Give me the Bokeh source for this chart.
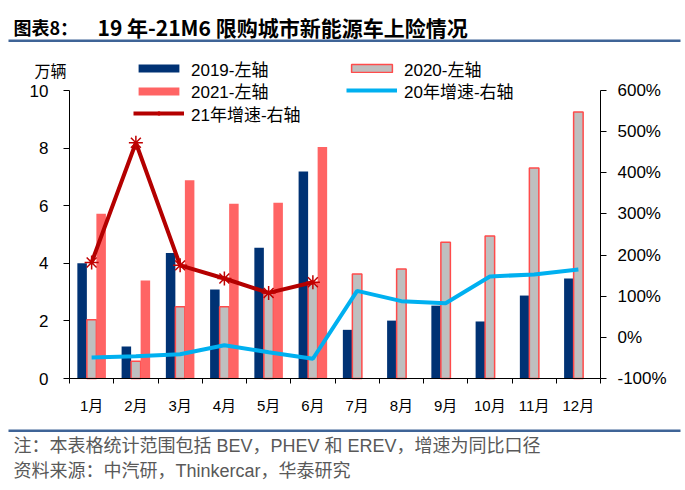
from bokeh.plotting import figure
from bokeh.models import (ColumnDataSource, Range1d, LinearAxis, FixedTicker, PrintfTickFormatter,
                          Legend, LegendItem, Label, BoxAnnotation)
from bokeh.transform import dodge
from bokeh.embed import file_html
from bokeh.resources import INLINE

# ---- data ----
months = ["1月", "2月", "3月", "4月", "5月", "6月", "7月", "8月", "9月", "10月", "11月", "12月"]
month_idx = list(range(1, 13))
sales_2019 = [4.0, 1.11, 4.36, 3.09, 4.54, 7.19, 1.69, 2.01, 2.53, 1.98, 2.88, 3.47]
sales_2020 = [2.04, 0.60, 2.49, 2.49, 2.95, 3.30, 3.63, 3.80, 4.73, 4.95, 7.31, 9.25]
sales_2021 = [5.72, 3.40, 6.88, 6.07, 6.10, 8.04]
growth_2020 = [-49, -46, -41, -19, -36, -52, 113, 88, 83, 148, 153, 165]
growth_2021 = [182, 473, 175, 143, 108, 134]
left_ticks = [0, 2, 4, 6, 8, 10]
right_ticks = [-100, 0, 100, 200, 300, 400, 500, 600]

# ---- layout geometry (pixels, page coordinates from top-left) ----
W, H = 685, 489
PX_L, PX_R, PY_T, PY_B = 69, 600, 90, 378
X0, X1 = 0.5, 12.5
L0, L1 = 0, 10
R0, R1 = -100, 600

ux = (X1 - X0) / (PX_R - PX_L)
uy = (L1 - L0) / (PY_B - PY_T)
ur = (R1 - R0) / (PY_B - PY_T)
x_range = Range1d(X0 - PX_L * ux, X1 + (W - PX_R) * ux)
y_range = Range1d(L0 - (H - PY_B) * uy, L1 + PY_T * uy)
pct_range = Range1d(R0 - (H - PY_B) * ur, R1 + PY_T * ur)

LAT_CJK = "'Liberation Sans', 'Noto Sans CJK SC', sans-serif"
CJK = "'Noto Sans CJK SC', sans-serif"

src_full = ColumnDataSource(dict(x=month_idx, y19=sales_2019, y20=sales_2020, g20=growth_2020))
src_21 = ColumnDataSource(dict(x=month_idx[:6], y21=sales_2021, g21=growth_2021))

p = figure(width=W, height=H, output_backend="svg", toolbar_location=None,
           x_range=x_range, y_range=y_range, min_border=0,
           x_axis_type=None, y_axis_type=None)
p.title_location = None
p.outline_line_color = None
p.background_fill_color = "white"
p.border_fill_color = "white"
p.xgrid.visible = False
p.ygrid.visible = False
p.extra_y_ranges = {"pct": pct_range}

bw = 0.215
r19 = p.vbar(x=dodge("x", -0.215, range=p.x_range), top="y19", width=bw, source=src_full,
             fill_color="#003274", line_color=None)
r20 = p.vbar(x=dodge("x", 0.0, range=p.x_range), top="y20", width=bw, source=src_full,
             fill_color="#bfbfbf", line_color="#ff4b4b", line_width=1.5)
r21 = p.vbar(x=dodge("x", 0.215, range=p.x_range), top="y21", width=bw, source=src_21,
             fill_color="#ff6464", line_color=None)
l20 = p.line(x="x", y="g20", source=src_full, y_range_name="pct", line_color="#00b0f0", line_width=4)
l21 = p.line(x="x", y="g21", source=src_21, y_range_name="pct", line_color="#b40000", line_width=4)
s21 = p.scatter(x="x", y="g21", source=src_21, y_range_name="pct", marker="asterisk", size=14,
                line_color="#c00000", line_width=1.5)

# ---- axes (fixed inside the full-canvas frame) ----
xaxis = LinearAxis(ticker=FixedTicker(ticks=month_idx, minor_ticks=[i + 0.5 for i in range(0, 13)]),
                   fixed_location=0, bounds=(X0, X1))
xaxis.major_label_overrides = {i: m for i, m in zip(month_idx, months)}
xaxis.major_tick_out = 0
xaxis.major_tick_in = 0
xaxis.minor_tick_out = 5
xaxis.minor_tick_in = 0
xaxis.minor_tick_line_color = "black"
xaxis.major_label_standoff = 13
xaxis.major_label_text_font = LAT_CJK
xaxis.major_label_text_font_size = "15px"
xaxis.major_label_text_color = "black"
xaxis.axis_line_color = "black"
p.add_layout(xaxis, "below")

yaxis = LinearAxis(ticker=FixedTicker(ticks=left_ticks, minor_ticks=[]), fixed_location=X0, bounds=(L0, L1))
yaxis.major_tick_out = 6
yaxis.major_tick_in = 0
yaxis.major_label_standoff = 15
yaxis.major_label_text_font = "Liberation Sans"
yaxis.major_label_text_font_size = "17px"
yaxis.major_label_text_color = "black"
p.add_layout(yaxis, "left")

raxis = LinearAxis(y_range_name="pct", ticker=FixedTicker(ticks=right_ticks, minor_ticks=[]),
                   formatter=PrintfTickFormatter(format="%d%%"), fixed_location=X1, bounds=(R0, R1))
raxis.major_tick_out = 6
raxis.major_tick_in = 0
raxis.major_label_standoff = 11
raxis.major_label_text_font = "Liberation Sans"
raxis.major_label_text_font_size = "17px"
raxis.major_label_text_color = "black"
p.add_layout(raxis, "right")

# ---- legend entries, one per row (location = bottom-left, pixels from canvas bottom-left) ----
ROW_H = 26
def legend_row(label, renderers, x_left, y_center):
    lg = Legend(items=[LegendItem(label=label, renderers=renderers)],
                location=(x_left, H - (y_center + ROW_H / 2)), orientation="vertical")
    lg.glyph_width = 51
    lg.glyph_height = 10
    lg.label_height = ROW_H
    lg.label_standoff = 7
    lg.spacing = 0
    lg.padding = 0
    lg.margin = 0
    lg.border_line_color = None
    lg.background_fill_alpha = 0
    lg.label_text_font = LAT_CJK
    lg.label_text_font_size = "17px"
    lg.label_text_color = "black"
    lg.label_text_baseline = "middle"
    p.add_layout(lg, "center")

legend_row("2019-左轴", [r19], 133, 68)
legend_row("2021-左轴", [r21], 133, 90.5)
legend_row("21年增速-右轴", [l21, s21], 133, 113)
legend_row("2020-左轴", [r20], 346, 68)
legend_row("20年增速-右轴", [l20], 346, 90)

# ---- texts (page coords converted to canvas-bottom-left screen units) ----
def lab(text, x, y, size, font=CJK, color="black", style="normal", align="left"):
    p.add_layout(Label(x=x, y=H - y, x_units="screen", y_units="screen", text=text, text_font=font,
                       text_font_size=size, text_color=color, text_font_style=style,
                       text_baseline="middle", text_align=align))

lab("图表8：", 13, 26, "18px", style="bold")
lab("19 年-21M6 限购城市新能源车上险情况", 97, 26, "21px", style="bold")
lab("万辆", 50, 69, "16px", align="center")
lab("注：本表格统计范围包括 BEV，PHEV 和 EREV，增速为同比口径", 13, 445, "18px", font=LAT_CJK, color="#595959")
lab("资料来源：中汽研，Thinkercar，华泰研究", 13, 470, "18px", font=LAT_CJK, color="#595959")

def rule(y_top, y_bot):
    p.add_layout(BoxAnnotation(left=8, right=680, top=H - y_top, bottom=H - y_bot, left_units="screen",
                               right_units="screen", top_units="screen", bottom_units="screen",
                               fill_color="#3f6497", fill_alpha=1, line_color=None))

rule(39, 41.5)
rule(429, 431.5)

open("out.html", "w").write(file_html(p, INLINE))
